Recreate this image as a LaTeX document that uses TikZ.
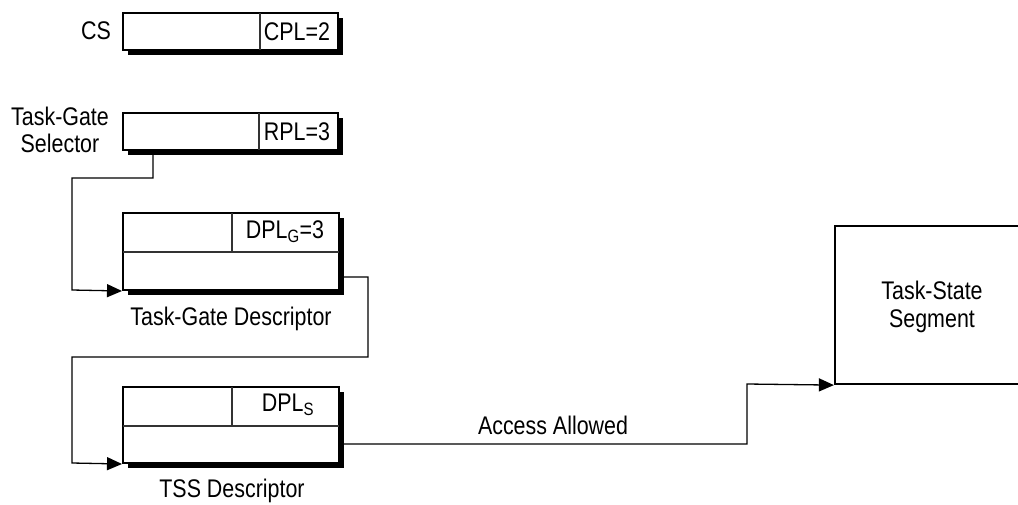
\documentclass[tikz,border=0pt]{standalone}
\usepackage{fontspec}
\setmainfont{Liberation Sans}[FakeStretch=0.84]
\usetikzlibrary{arrows.meta}
\begin{document}
\begin{tikzpicture}[x=1pt,y=-1pt,
  lbl/.style={font=\fontsize{25.5}{29}\selectfont, inner sep=0pt, align=center},
  regbox/.style={draw, line width=2pt, fill=white, inner sep=0pt, minimum width=215pt},
  shadowbox/.style={fill=black, inner sep=0pt, minimum width=215pt},
  divline/.style={line width=1.1pt, draw=black!80},
  conn/.style={line width=1.3pt, draw=black},
  arr/.style={conn, -{Triangle[length=15pt,width=13pt,fill=black]}}
]
\useasboundingbox (0,0) rectangle (1018,504);
\clip (0,0) rectangle (1018,504);

% ---------- CS ----------
\node[shadowbox, minimum height=37pt] at (235,36) {};
\node[regbox, minimum height=37pt] (cs) at (230.5,31.5) {};
\draw[divline] (260,13) -- (260,50);
\node[lbl] (cpl) at (297,32) {CPL=2};
\node[lbl] (cslbl) at (96,31) {CS};

% ---------- Task-Gate Selector ----------
\node[shadowbox, minimum height=37pt] at (235,136) {};
\node[regbox, minimum height=37pt] (sel) at (230.5,131.5) {};
\draw[divline] (259,113) -- (259,150);
\node[lbl] (rpl) at (297,132) {RPL=3};
\node[lbl] (sellbl) at (60,130) {Task-Gate\\[-2pt]Selector};

% ---------- Task-Gate Descriptor ----------
\node[shadowbox, minimum width=216pt, minimum height=77pt] at (235.5,256) {};
\node[regbox, minimum width=216pt, minimum height=77pt] (tgd) at (231,251.5) {};
\draw[divline] (123,252) -- (339,252);
\draw[divline] (232,213) -- (232,252);
\node[lbl] (dplg) at (285,232) {DPL\textsubscript{G}=3};
\node[lbl] (tgdlbl) at (231,319) {Task-Gate Descriptor};

% ---------- TSS Descriptor ----------
\node[shadowbox, minimum width=216pt, minimum height=76pt] at (235.5,429.5) {};
\node[regbox, minimum width=216pt, minimum height=76pt] (tssd) at (231,425) {};
\draw[divline] (123,426) -- (339,426);
\draw[divline] (232,387) -- (232,426);
\node[lbl] (dpls) at (288,405) {DPL\textsubscript{S}};
\node[lbl] (tssdlbl) at (232,491) {TSS Descriptor};

% ---------- Task-State Segment ----------
\node[draw, line width=2.2pt, inner sep=0pt, minimum width=195pt, minimum height=158pt] (tss) at (932.5,305) {};
\node[lbl] (tsslbl) at (932,307) {Task-State\\[-1pt]Segment};

% ---------- connectors ----------
\coordinate (a1) at (153,154);
\draw[arr] (a1) -- (153,178) -- (72,178) -- (72,290) -- (tgd.south west);

\coordinate (b1) at (344,277);
\draw[arr] (b1) -- (368,277) -- (368,357) -- (72,357) -- (72,463) -- (tssd.south west);

\coordinate (c1) at (344,444);
\draw[arr] (c1) -- (747,444) -- (747,384) -- (tss.south west);
\node[lbl] (acc) at (553,425) {Access Allowed};
\end{tikzpicture}
\end{document}
